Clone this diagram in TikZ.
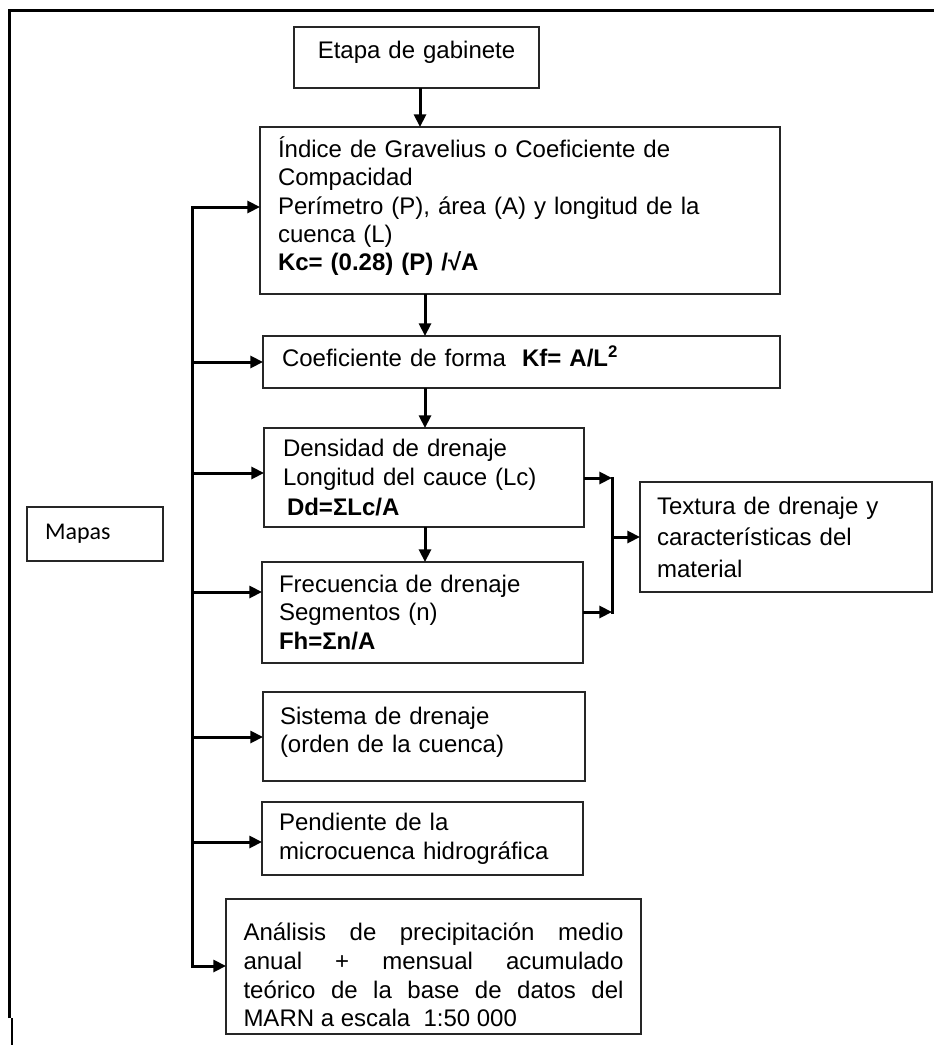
\documentclass[tikz,border=0pt]{standalone}
\usepackage{fontspec}
\setmainfont{Liberation Sans}
\newfontfamily\calibrifont{Carlito}
\usetikzlibrary{arrows.meta}

\begin{document}
\begin{tikzpicture}[x=0.75pt,y=-0.75pt,
  box/.style={draw=black!85, line width=0.9pt, anchor=north west, outer sep=0pt,
    inner ysep=0pt, align=left, font=\fontsize{18pt}{21.2pt}\selectfont},
  conn/.style={line width=2.25pt, line cap=rect},
  arr/.style={line width=2.25pt, -{Triangle[length=9.5pt,width=9pt]}},
  frame/.style={line width=2.4pt}
]
\useasboundingbox (0,0) rectangle (933,1045);

% outer frame (top and left sides)
\draw[frame] (9.5,1018) -- (9.5,10.5) -- (940,10.5);
\draw[line width=1.5pt] (11.5,1018) -- (11.5,1045);

% boxes
\node[box, minimum width=183.75pt, minimum height=45.75pt, text width=183.75pt,
  inner xsep=0pt, align=center] (etapa) at (294,27)
  {Etapa de gabinete\rule[-11pt]{0pt}{0pt}};

\node[box, minimum width=390pt, minimum height=125.25pt, inner xsep=13.5pt,
  text width=363pt] (indice) at (260,127)
  {Índice de Gravelius o Coeficiente de\\
   Compacidad\\
   Perímetro (P), área (A) y longitud de la\\
   cuenca (L)\\
   \textbf{Kc= (0.28) (P) /√A}\rule[-10pt]{0pt}{0pt}};

\node[box, minimum width=387.75pt, minimum height=39pt, inner xsep=14.25pt,
  text width=359.25pt] (coef) at (263,336)
  {Coeficiente de forma\ \ \textbf{Kf= A/L\textsuperscript{2}}\rule[-9pt]{0pt}{0pt}};

\node[box, minimum width=240pt, minimum height=74.25pt, inner xsep=14.25pt,
  text width=211.5pt, font=\fontsize{18pt}{21.8pt}\selectfont] (dens) at (264,428)
  {Densidad de drenaje\\
   Longitud del cauce (Lc)\\
   \hspace*{3pt}\textbf{Dd=ΣLc/A}};

\node[box, minimum width=240.75pt, minimum height=75.75pt, inner xsep=12.75pt,
  text width=215.25pt] (frec) at (262,562)
  {Frecuencia de drenaje\\
   Segmentos (n)\\
   \textbf{Fh=Σn/A}};

\node[box, minimum width=241.5pt, minimum height=66.75pt, inner xsep=12.75pt,
  text width=216pt] (sist) at (263,692)
  {Sistema de drenaje\\
   (orden de la cuenca)\rule[-10pt]{0pt}{0pt}};

\node[box, minimum width=240.75pt, minimum height=54.75pt, inner xsep=12.75pt,
  text width=215.25pt, font=\fontsize{18pt}{22pt}\selectfont] (pend) at (262,802)
  {Pendiente de la\\
   microcuenca hidrográfica};

\node[box, minimum width=311.25pt, minimum height=101.25pt, inner xsep=13.125pt,
  text width=285pt, align=justify, font=\fontsize{18pt}{21.5pt}\selectfont] (anal) at (226,899)
  {\rule{0pt}{26pt}Análisis de precipitación medio\linebreak
   anual + mensual acumulado\linebreak
   teórico de la base de datos del\linebreak
   MARN a escala\ \ 1:50 000};

\node[box, minimum width=219pt, minimum height=82.5pt, inner xsep=12.75pt,
  text width=193.5pt, font=\fontsize{18pt}{23.6pt}\selectfont] (tex) at (640,482)
  {Textura de drenaje y\\
   características del\\
   material};

\node[box, minimum width=102pt, minimum height=40.5pt, inner xsep=13.5pt,
  text width=75pt, font=\calibrifont\fontsize{18pt}{21.2pt}\selectfont] (mapas) at (27,507)
  {Mapas};

% vertical chain
\coordinate (cA) at (420,0);
\coordinate (cB) at (425,0);
\draw[arr] (etapa.south -| cA) -- (indice.north -| cA);
\draw[arr] (indice.south -| cB) -- (coef.north -| cB);
\draw[arr] (coef.south -| cB) -- (dens.north -| cB);
\draw[arr] (dens.south -| cB) -- (frec.north -| cB);

% left spine with branches
\coordinate (s1) at (192,207);
\coordinate (s2) at (192,362);
\coordinate (s3) at (192,473);
\coordinate (s4) at (192,592);
\coordinate (s5) at (192,737);
\coordinate (s6) at (192,842);
\coordinate (s7) at (192,966);
\draw[conn] (s1) -- (s7);
\draw[arr] (s1) -- (indice.west |- s1);
\draw[arr] (s2) -- (coef.west |- s2);
\draw[arr] (s3) -- (dens.west |- s3);
\draw[arr] (s4) -- (frec.west |- s4);
\draw[arr] (s5) -- (sist.west |- s5);
\draw[arr] (s6) -- (pend.west |- s6);
\draw[arr] (s7) -- (anal.west |- s7);

% bracket joining the two drainage boxes
\coordinate (bt) at (612,478);
\coordinate (bb) at (612,612);
\coordinate (bm) at (612,537);
\draw[conn] (bt) -- (bb);
\draw[arr] (dens.east |- bt) -- (bt);
\draw[arr] (frec.east |- bb) -- (bb);
\draw[arr] (bm) -- (tex.west |- bm);
\end{tikzpicture}
\end{document}
